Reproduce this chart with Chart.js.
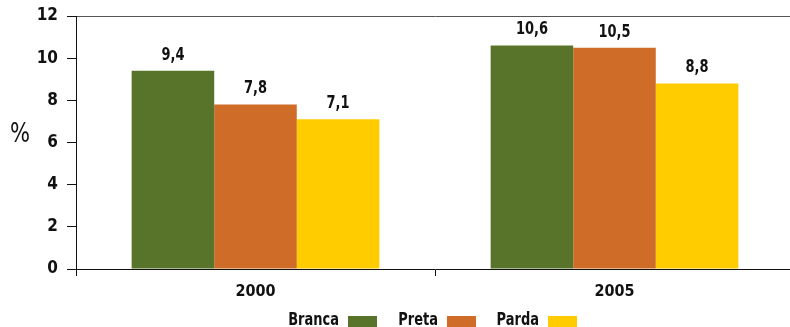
<!DOCTYPE html>
<html><head><meta charset="utf-8">
<script src="https://cdn.jsdelivr.net/npm/chart.js@4"></script>
<style>
html,body{margin:0;padding:0;background:#fff;overflow:hidden;}
#wrap{position:relative;width:794px;height:327px;}
</style></head>
<body>
<div id="wrap"><canvas id="c"></canvas></div>
<script>
const categories = ['2000', '2005'];
const seriesNames = ['Branca', 'Preta', 'Parda'];
const branca = [9.4, 10.6];
const preta = [7.8, 10.5];
const parda = [7.1, 8.8];
const yTicks = [0, 2, 4, 6, 8, 10, 12];
const colors = ['#58742a', '#cf6d28', '#ffcc00'];

const FONT = '"DejaVu Sans Condensed", "Liberation Sans Narrow", "DejaVu Sans", sans-serif';

function narrowText(ctx, txt, x, y, sx) {
  ctx.save();
  ctx.translate(x, y);
  ctx.scale(sx, 1);
  ctx.fillText(txt, 0, 0);
  ctx.restore();
}

const labelsPlugin = {
  id: 'extras',
  afterDatasetsDraw(chart) {
    const ctx = chart.ctx;
    ctx.save();
    ctx.fillStyle = '#111';
    ctx.font = 'bold 17px ' + FONT;
    ctx.textAlign = 'center';
    ctx.textBaseline = 'bottom';
    chart.data.datasets.forEach((ds, i) => {
      chart.getDatasetMeta(i).data.forEach((bar, j) => {
        const v = ds.data[j];
        narrowText(ctx, v.toFixed(1).replace('.', ','), bar.x, bar.y - 7, 0.85);
      });
    });
    // % axis label
    ctx.font = '26px ' + FONT;
    ctx.textAlign = 'center';
    ctx.textBaseline = 'middle';
    narrowText(ctx, '%', 20, 135, 0.9);
    // custom legend: text then box
    const boxX = [348, 447, 548];
    ctx.font = 'bold 17px ' + FONT;
    ctx.textAlign = 'right';
    ctx.textBaseline = 'alphabetic';
    seriesNames.forEach((n, i) => {
      ctx.fillStyle = '#111';
      narrowText(ctx, n, boxX[i] - 9, 325, 0.85);
      ctx.fillStyle = colors[i];
      ctx.fillRect(boxX[i], 316, 29, 12);
    });
    ctx.restore();
  }
};

new Chart(document.getElementById('c'), {
  type: 'bar',
  data: {
    labels: categories,
    datasets: [
      { label: seriesNames[0], data: branca, backgroundColor: colors[0] },
      { label: seriesNames[1], data: preta, backgroundColor: colors[1] },
      { label: seriesNames[2], data: parda, backgroundColor: colors[2] }
    ]
  },
  options: {
    responsive: true,
    maintainAspectRatio: false,
    animation: false,
    layout: { padding: { top: 16, left: 0, right: 0, bottom: 0 } },
    datasets: { bar: { categoryPercentage: 0.69, barPercentage: 1.0 } },
    plugins: { legend: { display: false }, tooltip: { enabled: false } },
    scales: {
      x: {
        afterFit(s) { s.height = 58; },
        grid: { offset: true, drawOnChartArea: false, tickLength: 7, tickColor: '#111', lineWidth: 1 },
        border: { color: '#111', width: 1 },
        ticks: { color: '#111', font: { family: FONT, weight: 'bold', size: 16 }, padding: 6 }
      },
      y: {
        min: 0, max: 12,
        afterFit(s) { s.width = 76; s.paddingTop = 0; s.paddingBottom = 0; },
        afterBuildTicks(s) { s.ticks = yTicks.map(v => ({ value: v })); },
        grid: {
          drawOnChartArea: true,
          color: c => (c.tick && c.tick.value === 12) ? '#555' : 'rgba(0,0,0,0)',
          tickColor: '#111',
          tickLength: 9
        },
        border: { color: '#111', width: 1 },
        ticks: { color: '#111', font: { family: FONT, weight: 'bold', size: 17, lineHeight: 1 }, padding: 9 }
      }
    }
  },
  plugins: [labelsPlugin]
});
</script>
</body></html>
